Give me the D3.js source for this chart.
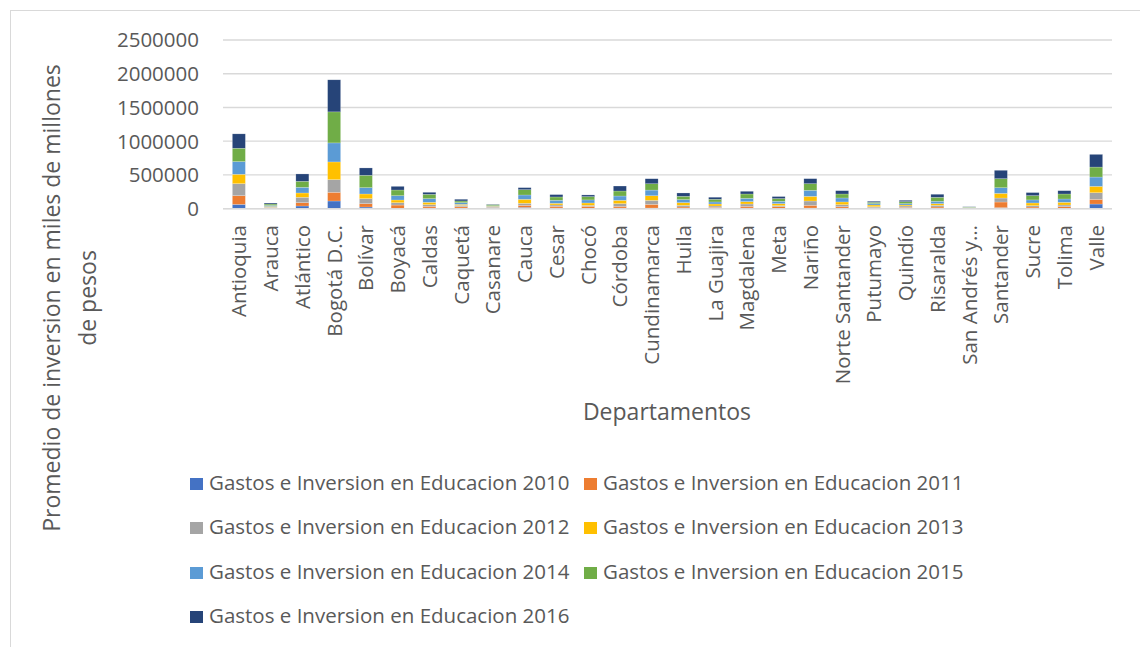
<!DOCTYPE html>
<html><head><meta charset="utf-8">
<script src="https://cdn.jsdelivr.net/npm/d3@7"></script>
<style>
html,body{margin:0;padding:0;background:#fff;}
svg{display:block;font-family:"Open Sans",sans-serif;}
</style></head>
<body><svg id="c" width="1140" height="647"></svg>
<script>
const categories = ["Antioquia","Arauca","Atlántico","Bogotá D.C.","Bolívar","Boyacá","Caldas","Caquetá","Casanare","Cauca","Cesar","Chocó","Córdoba","Cundinamarca","Huila","La Guajira","Magdalena","Meta","Nariño","Norte Santander","Putumayo","Quindío","Risaralda","San Andrés y…","Santander","Sucre","Tolima","Valle"];
const seriesNames = ["Gastos e Inversion en Educacion 2010","Gastos e Inversion en Educacion 2011","Gastos e Inversion en Educacion 2012","Gastos e Inversion en Educacion 2013","Gastos e Inversion en Educacion 2014","Gastos e Inversion en Educacion 2015","Gastos e Inversion en Educacion 2016"];
const s2010 = [64000,5000,40000,114000,25000,5000,10000,10000,5000,20000,10000,5000,10000,10000,5000,5000,10000,5000,10000,10000,5000,5000,5000,3000,15000,5000,5000,69000];
const s2011 = [129000,8000,50000,129000,50000,49000,25000,20000,10000,30000,25000,30000,25000,54000,20000,15000,25000,25000,40000,20000,10000,15000,20000,4000,84000,20000,25000,69000];
const s2012 = [178000,10000,79000,188000,74000,35000,25000,20000,10000,30000,20000,15000,40000,59000,25000,20000,35000,15000,64000,30000,15000,20000,25000,4000,59000,20000,25000,99000];
const s2013 = [139000,10000,64000,262000,69000,40000,35000,15000,10000,59000,25000,35000,49000,69000,40000,30000,35000,30000,69000,40000,25000,15000,25000,4000,69000,40000,40000,94000];
const s2014 = [188000,15000,84000,282000,94000,64000,54000,25000,10000,64000,45000,45000,64000,84000,45000,30000,49000,35000,89000,59000,20000,20000,35000,5000,84000,45000,49000,138000];
const s2015 = [198000,21000,89000,460000,183000,84000,64000,25000,15000,79000,49000,49000,74000,94000,49000,40000,64000,40000,99000,59000,20000,30000,59000,6000,134000,64000,74000,148000];
const s2016 = [213000,15000,109000,475000,109000,54000,30000,25000,5000,30000,35000,25000,74000,74000,49000,30000,40000,30000,74000,49000,15000,20000,45000,4000,124000,45000,49000,188000];
const yTicks = [0,500000,1000000,1500000,2000000,2500000];
const colors = ["#4472C4","#ED7D31","#A5A5A5","#FFC000","#5B9BD5","#70AD47","#264478"];

const seriesValues = [s2010,s2011,s2012,s2013,s2014,s2015,s2016];
const table = categories.map((c,i)=>{const o={cat:c}; seriesNames.forEach((n,j)=>o[n]=seriesValues[j][i]); return o;});
const stacked = d3.stack().keys(seriesNames)(table);

const svg = d3.select("#c");
const textColor = "#595959";
const fs = "20.5px";
const fsTitle = "23px";

// chart border
svg.append("rect").attr("x",10.5).attr("y",10.5).attr("width",1140).attr("height",660)
  .attr("fill","none").attr("stroke","#d9d9d9").attr("stroke-width",1);

const x = d3.scaleBand().domain(categories).range([223,1112]).paddingInner(0.59).paddingOuter(0.295);
const y = d3.scaleLinear().domain([0,2500000]).range([208.7,40]);

// gridlines
svg.append("g").selectAll("line").data(yTicks).join("line")
  .attr("x1",223).attr("x2",1112).attr("y1",d=>y(d)).attr("y2",d=>y(d))
  .attr("stroke","#d9d9d9").attr("stroke-width",1.3);

// y tick labels
svg.append("g").selectAll("text").data(yTicks).join("text")
  .attr("x",199).attr("y",d=>y(d)).attr("dy","0.36em").attr("text-anchor","end")
  .attr("fill",textColor).style("font-size",fs).text(d=>d3.format("d")(d));

// bars
svg.append("g").selectAll("g").data(stacked).join("g")
  .attr("fill",(d,i)=>colors[i])
  .selectAll("rect").data(d=>d).join("rect")
  .attr("x",d=>x(d.data.cat)).attr("width",x.bandwidth())
  .attr("y",d=>y(d[1])).attr("height",d=>Math.max(0,y(d[0])-y(d[1])))
  .attr("stroke","#ffffff").attr("stroke-opacity",0.4).attr("stroke-width",0.5);

// baseline
svg.append("line").attr("x1",223).attr("x2",1112).attr("y1",y(0)).attr("y2",y(0))
  .attr("stroke","#d9d9d9").attr("stroke-width",1.5);

// category labels
svg.append("g").selectAll("text").data(categories).join("text")
  .attr("transform",d=>`translate(${x(d)+x.bandwidth()/2},225) rotate(-90)`)
  .attr("dy","0.36em").attr("text-anchor","end")
  .attr("fill",textColor).style("font-size",fs).text(d=>d);

// x axis title
svg.append("text").attr("x",667).attr("y",420).attr("text-anchor","middle")
  .attr("fill",textColor).style("font-size",fsTitle).text("Departamentos");

// y axis title (two lines)
const yTitleLines = ["Promedio de inversion en miles de millones","de pesos"];
svg.append("g").selectAll("text").data(yTitleLines).join("text")
  .attr("transform",(d,i)=>`translate(${52+i*36},298) rotate(-90)`)
  .attr("dy","0.36em").attr("text-anchor","middle")
  .attr("fill",textColor).style("font-size",fsTitle).text(d=>d);

// legend
const legPos = [[190,490],[584,490],[190,534],[584,534],[190,579],[584,579],[190,623]];
const leg = svg.append("g").selectAll("g").data(seriesNames).join("g")
  .attr("transform",(d,i)=>`translate(${legPos[i][0]},${legPos[i][1]})`);
leg.append("rect").attr("x",0).attr("y",-12).attr("width",13).attr("height",12).attr("fill",(d,i)=>colors[i]);
leg.append("text").attr("x",19).attr("y",0).attr("fill",textColor).style("font-size",fs).text(d=>d);
</script></body></html>
